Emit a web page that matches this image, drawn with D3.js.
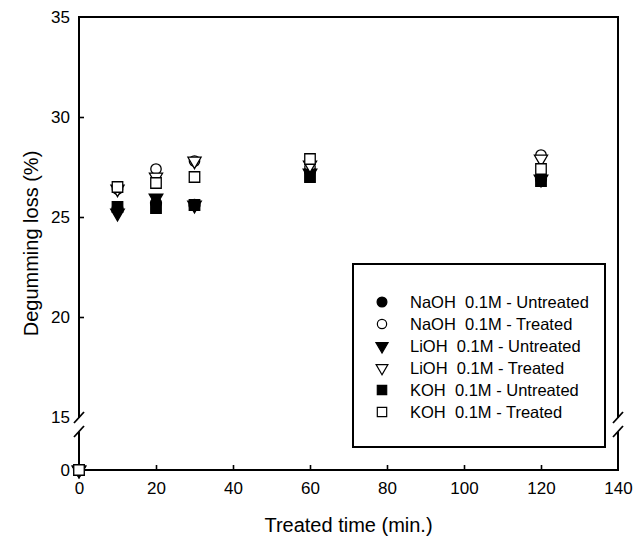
<!DOCTYPE html>
<html><head><meta charset="utf-8">
<script src="https://cdn.jsdelivr.net/npm/d3@7"></script>
<style>body{margin:0;background:#fff}svg{display:block}text{font-family:"Liberation Sans",Arial,sans-serif;fill:#000}</style>
</head><body><svg id="c" width="635" height="549"></svg>
<script>
const times = [0, 10, 20, 30, 60, 120];
const seriesNames = ["NaOH  0.1M - Untreated","NaOH  0.1M - Treated","LiOH  0.1M - Untreated","LiOH  0.1M - Treated","KOH  0.1M - Untreated","KOH  0.1M - Treated"];
const naohUntreated = [0, 25.4, 25.7, 25.6, 27.3, 26.9];
const naohTreated   = [0, 26.4, 27.4, 27.8, 27.5, 28.1];
const liohUntreated = [0, 25.2, 25.95, 25.6, 27.2, 26.9];
const liohTreated   = [0, 26.4, 27.0, 27.8, 27.6, 27.9];
const kohUntreated  = [0, 25.5, 25.45, 25.6, 27.0, 26.8];
const kohTreated    = [0, 26.5, 26.7, 27.0, 27.9, 27.4];
const xTicks = [0, 20, 40, 60, 80, 100, 120, 140];
const yTicksUpper = [15, 20, 25, 30, 35];
const yTicksLower = [0];

const seriesValues = [naohUntreated, naohTreated, liohUntreated, liohTreated, kohUntreated, kohTreated];
const shapes = [
  {type:d3.symbolCircle, filled:true, size:95, rot:0},
  {type:d3.symbolCircle, filled:false, size:85, rot:0},
  {type:d3.symbolTriangle, filled:true, size:80, rot:180},
  {type:d3.symbolTriangle, filled:false, size:75, rot:180},
  {type:d3.symbolSquare, filled:true, size:110, rot:0},
  {type:d3.symbolSquare, filled:false, size:110, rot:0}
];

const svg = d3.select("#c");
const L = 79, R = 618, T = 17, B = 470;
const breakTop = 418, breakBot = 432;
const x = d3.scaleLinear().domain([0,140]).range([L,R]);
const yU = d3.scaleLinear().domain([15,35]).range([417,T]);
const yL = d3.scaleLinear().domain([0,1]).range([B,445]);
const yOf = v => v >= 15 ? yU(v) : yL(v);

// frame with breaks
const frame = svg.append("g").attr("stroke","#000").attr("stroke-width",2).attr("fill","none");
frame.append("path").attr("d",`M${L},${breakTop}V${T}H${R}V${breakTop}`);
frame.append("path").attr("d",`M${L},${breakBot}V${B}H${R}V${breakBot}`);
[L,R].forEach(px=>{
  [breakTop, breakBot].forEach(py=>{
    frame.append("line").attr("x1",px-5).attr("y1",py+5).attr("x2",px+5).attr("y2",py-6).attr("stroke-width",1.8);
  });
});

// axes
const gx = svg.append("g").attr("transform",`translate(0,${B})`)
  .call(d3.axisBottom(x).tickValues(xTicks).tickSizeInner(-5).tickSizeOuter(0).tickPadding(12));
const gy = svg.append("g").attr("transform",`translate(${L},0)`)
  .call(d3.axisLeft(yU).tickValues(yTicksUpper).tickSizeInner(-5).tickSizeOuter(0).tickPadding(9));
const gy0 = svg.append("g").attr("transform",`translate(${L},0)`)
  .call(d3.axisLeft(yL).tickValues(yTicksLower).tickFormat(d3.format("d")).tickSize(0).tickPadding(9));
[gx,gy,gy0].forEach(g=>{
  g.select(".domain").remove();
  g.selectAll(".tick line").attr("stroke","#000").attr("stroke-width",1.6);
  g.selectAll(".tick text").attr("font-size",17).attr("fill","#000").style("font-family",'"Liberation Sans",Arial,sans-serif');
});
gy.selectAll(".tick").filter(d=>d===15||d===35).select("line").remove();
gx.selectAll(".tick").filter(d=>d===0||d===140).select("line").remove();

// titles
svg.append("text").attr("transform",`translate(31,${(T+B)/2}) rotate(-90)`).attr("text-anchor","middle")
  .attr("dominant-baseline","central").attr("font-size",20).text("Degumming loss (%)");
svg.append("text").attr("x",(L+R)/2).attr("y",532).attr("text-anchor","middle").attr("font-size",20).text("Treated time (min.)");

// points
const sym = (s, scale=1) => d3.symbol().type(s.type).size(s.size*scale)();
seriesValues.forEach((vals,i)=>{
  const s = shapes[i];
  svg.append("g").selectAll("path").data(vals.map((v,j)=>({t:times[j],v}))).join("path")
    .attr("d", sym(s))
    .attr("transform", d=>`translate(${x(d.t)},${yOf(d.v)}) rotate(${s.rot})`)
    .attr("fill", s.filled ? "#000" : "#fff")
    .attr("stroke","#000").attr("stroke-width",1.3);
});

// legend
const lg = svg.append("g");
lg.append("rect").attr("x",353).attr("y",264).attr("width",252).attr("height",183)
  .attr("fill","#fff").attr("stroke","#000").attr("stroke-width",2);
seriesNames.forEach((name,i)=>{
  const s = shapes[i];
  const yy = 302 + i*22;
  lg.append("path").attr("d", sym(s, 0.8)).attr("transform",`translate(382,${yy}) rotate(${s.rot})`)
    .attr("fill", s.filled ? "#000" : "#fff").attr("stroke","#000").attr("stroke-width",1.2);
  lg.append("text").attr("x",410).attr("y",yy).attr("dominant-baseline","central")
    .attr("font-size",16.5).style("white-space","pre").text(name);
});
</script></body></html>
